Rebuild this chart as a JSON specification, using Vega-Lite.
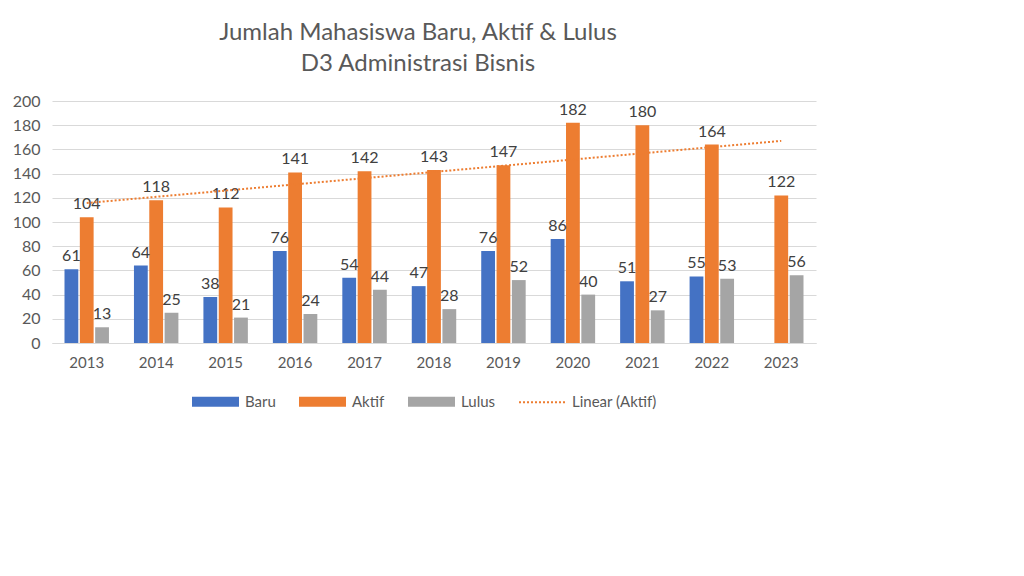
{
  "$schema": "https://vega.github.io/schema/vega-lite/v6.json",
  "width": 764,
  "height": 242,
  "autosize": {"type": "none"},
  "padding": {"left": 52, "top": 101, "right": 208, "bottom": 233},
  "background": "white",
  "config": {
    "font": "Lato",
    "view": {"stroke": null},
    "axis": {"labelFont": "Lato", "labelColor": "#595959", "labelFontSize": 15}
  },
  "title": {
    "text": ["Jumlah Mahasiswa Baru, Aktif & Lulus", "D3 Administrasi Bisnis"],
    "font": "Lato",
    "fontSize": 24,
    "fontWeight": "normal",
    "color": "#595959",
    "lineHeight": 31,
    "anchor": "middle",
    "dx": -16,
    "offset": 17
  },
  "data": {
    "values": [
      {"Year": 2013, "series": "Baru", "value": 61},
      {"Year": 2013, "series": "Aktif", "value": 104},
      {"Year": 2013, "series": "Lulus", "value": 13},
      {"Year": 2014, "series": "Baru", "value": 64},
      {"Year": 2014, "series": "Aktif", "value": 118},
      {"Year": 2014, "series": "Lulus", "value": 25},
      {"Year": 2015, "series": "Baru", "value": 38},
      {"Year": 2015, "series": "Aktif", "value": 112},
      {"Year": 2015, "series": "Lulus", "value": 21},
      {"Year": 2016, "series": "Baru", "value": 76},
      {"Year": 2016, "series": "Aktif", "value": 141},
      {"Year": 2016, "series": "Lulus", "value": 24},
      {"Year": 2017, "series": "Baru", "value": 54},
      {"Year": 2017, "series": "Aktif", "value": 142},
      {"Year": 2017, "series": "Lulus", "value": 44},
      {"Year": 2018, "series": "Baru", "value": 47},
      {"Year": 2018, "series": "Aktif", "value": 143},
      {"Year": 2018, "series": "Lulus", "value": 28},
      {"Year": 2019, "series": "Baru", "value": 76},
      {"Year": 2019, "series": "Aktif", "value": 147},
      {"Year": 2019, "series": "Lulus", "value": 52},
      {"Year": 2020, "series": "Baru", "value": 86},
      {"Year": 2020, "series": "Aktif", "value": 182},
      {"Year": 2020, "series": "Lulus", "value": 40},
      {"Year": 2021, "series": "Baru", "value": 51},
      {"Year": 2021, "series": "Aktif", "value": 180},
      {"Year": 2021, "series": "Lulus", "value": 27},
      {"Year": 2022, "series": "Baru", "value": 55},
      {"Year": 2022, "series": "Aktif", "value": 164},
      {"Year": 2022, "series": "Lulus", "value": 53},
      {"Year": 2023, "series": "Aktif", "value": 122},
      {"Year": 2023, "series": "Lulus", "value": 56}
    ]
  },
  "encoding": {
    "x": {
      "field": "Year",
      "type": "ordinal",
      "scale": {"paddingInner": 0.36, "paddingOuter": 0.18},
      "axis": {
        "title": null,
        "labelAngle": 0,
        "ticks": false,
        "domainColor": "#D9D9D9",
        "domainWidth": 1,
        "labelPadding": 12,
        "grid": false
      }
    },
    "y": {
      "field": "value",
      "type": "quantitative",
      "scale": {"domain": [0, 200]},
      "axis": {
        "title": null,
        "values": [0, 20, 40, 60, 80, 100, 120, 140, 160, 180, 200],
        "labelOverlap": false,
        "labelFontSize": 16,
        "domain": false,
        "ticks": false,
        "gridColor": "#D9D9D9",
        "labelPadding": 12
      }
    }
  },
  "layer": [
    {
      "mark": {"type": "bar"},
      "encoding": {
        "xOffset": {
          "field": "series",
          "type": "nominal",
          "scale": {"domain": ["Baru", "Aktif", "Lulus"], "paddingInner": 0.1, "paddingOuter": 0}
        },
        "color": {
          "field": "series",
          "type": "nominal",
          "scale": {
            "domain": ["Baru", "Aktif", "Lulus", "Linear (Aktif)"],
            "range": ["#4472C4", "#ED7D31", "#A5A5A5", "#ED7D31"]
          },
          "legend": {
            "title": null,
            "orient": "none",
            "direction": "horizontal",
            "legendX": 139,
            "legendY": 276,
            "symbolSize": 2209,
            "labelFontSize": 15,
            "labelColor": "#595959",
            "labelFont": "Lato",
            "labelOffset": 5,
            "columnPadding": 19,
            "encode": {
              "symbols": {
                "update": {
                  "shape": {"signal": "datum.label === 'Linear (Aktif)' ? 'M-1,0H1' : 'M-1,-0.21H1V0.21H-1Z'"},
                  "fill": {"signal": "datum.label === 'Linear (Aktif)' ? 'transparent' : scale('color', datum.value)"},
                  "stroke": {"signal": "datum.label === 'Linear (Aktif)' ? '#ED7D31' : 'transparent'"},
                  "strokeWidth": {"value": 2},
                  "strokeDash": {"signal": "datum.label === 'Linear (Aktif)' ? [2, 2] : [1, 0]"},
                  "opacity": {"value": 1}
                }
              }
            }
          }
        }
      }
    },
    {
      "mark": {"type": "text", "baseline": "bottom", "dy": -5, "fontSize": 16, "color": "#404040", "font": "Lato"},
      "encoding": {
        "xOffset": {"field": "series", "type": "nominal"},
        "text": {"field": "value", "type": "quantitative"}
      }
    },
    {
      "transform": [
        {"filter": "datum.series === 'Aktif'"},
        {"regression": "value", "on": "Year", "method": "linear"}
      ],
      "mark": {"type": "line", "color": "#ED7D31", "strokeWidth": 2, "strokeDash": [2, 2]},
      "encoding": {}
    }
  ]
}
